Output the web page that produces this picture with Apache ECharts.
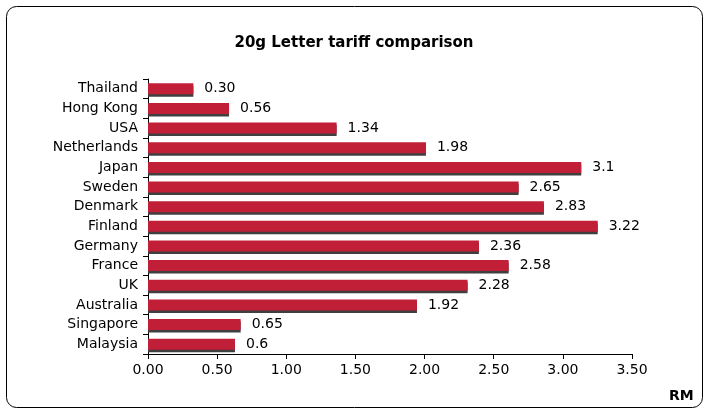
<!DOCTYPE html>
<html>
<head>
<meta charset="utf-8">
<script src="https://cdn.jsdelivr.net/npm/echarts@6/dist/echarts.min.js"></script>
<style>
html,body{margin:0;padding:0;background:#fff;}
#c{width:708px;height:413px;}
</style>
</head>
<body>
<div id="c"></div>
<script>
// Categories, top to bottom
var countries = ["Thailand","Hong Kong","USA","Netherlands","Japan","Sweden","Denmark","Finland","Germany","France","UK","Australia","Singapore","Malaysia"];
// Bar lengths (RM)
var barValues = [0.328,0.586,1.364,2.010,3.133,2.680,2.863,3.252,2.393,2.608,2.311,1.945,0.670,0.629];
// Value labels as printed
var valueLabels = ["0.30","0.56","1.34","1.98","3.1","2.65","2.83","3.22","2.36","2.58","2.28","1.92","0.65","0.6"];
// X-axis tick labels
var xTicks = ["0.00","0.50","1.00","1.50","2.00","2.50","3.00","3.50"];
var unitLabel = "RM";

var chart = echarts.init(document.getElementById('c'), null, {renderer:'canvas'});
var font = 'DejaVu Sans';
chart.setOption({
  animation:false,
  backgroundColor:'#fff',
  title:{
    text:'20g Letter tariff comparison',
    left:'center', top:31,
    textStyle:{fontFamily:font, fontSize:15, fontWeight:'bold', color:'#000'}
  },
  grid:{left:148, right:76, top:79, bottom:59},
  xAxis:{
    type:'value', min:0, max:3.5, interval:0.5,
    axisLine:{show:true, lineStyle:{color:'#000', width:1}},
    axisTick:{show:true, length:5, lineStyle:{color:'#000'}},
    splitLine:{show:false},
    axisLabel:{
      color:'#000', fontFamily:font, fontSize:14, margin:9,
      formatter:function(v){ return xTicks[Math.round(v/0.5)]; }
    }
  },
  yAxis:{
    type:'category', inverse:true, data:countries,
    axisLine:{show:true, lineStyle:{color:'#000', width:1}},
    axisTick:{show:true, length:5, alignWithLabel:false, lineStyle:{color:'#000'}},
    axisLabel:{color:'#000', fontFamily:font, fontSize:14, margin:10}
  },
  series:[{
    type:'bar',
    data:barValues,
    barWidth:11,
    itemStyle:{color:'#C01F37', shadowColor:'#3F3F3F', shadowBlur:0, shadowOffsetX:0, shadowOffsetY:2.5},
    label:{
      show:true, position:'right', distance:11,
      color:'#000', fontFamily:font, fontSize:14,
      formatter:function(p){ return valueLabels[p.dataIndex]; }
    }
  }],
  graphic:[{
    type:'rect', silent:true,
    shape:{x:6.5, y:6.5, width:696, height:401, r:10},
    style:{fill:'none', stroke:'#000', lineWidth:1}
  },{
    type:'text', silent:true, left:669, top:389,
    style:{text:unitLabel, fontFamily:font, fontSize:14, fontWeight:'bold', fill:'#000'}
  }]
});
</script>
</body>
</html>
